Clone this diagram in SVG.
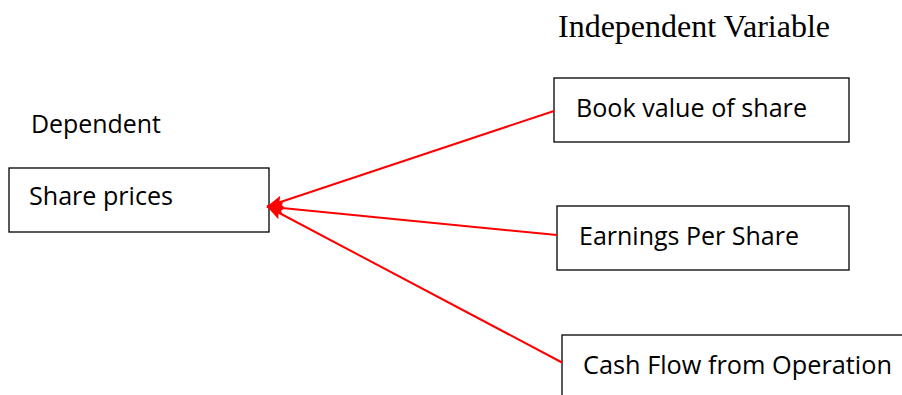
<svg xmlns="http://www.w3.org/2000/svg" width="902" height="395" viewBox="0 0 902 395">
<style>
.box{fill:#fff;stroke:#000;stroke-width:1.3}
.lbl{font-family:"Open Sans","Noto Sans","Liberation Sans",sans-serif;font-size:25.5px;fill:#000}
.title{font-family:"Liberation Serif","Times New Roman",serif;font-size:31.5px;fill:#000}
.conn{stroke:#f00;stroke-width:2;fill:none;marker-end:url(#ah)}
</style>
<defs>
<marker id="ah" viewBox="0 0 16 12" refX="16" refY="6" markerWidth="16" markerHeight="12" markerUnits="userSpaceOnUse" orient="auto">
<path d="M0,0 L16,6 L0,12 L3,6 Z" fill="#f00"/>
</marker>
</defs>
<rect width="902" height="395" fill="#fff"/>
<text class="title" x="558" y="37" textLength="272" lengthAdjust="spacingAndGlyphs">Independent Variable</text>
<text class="lbl" x="31" y="133" textLength="130" lengthAdjust="spacingAndGlyphs">Dependent</text>
<g id="share-prices">
<rect class="box" x="9" y="168" width="260" height="64"/>
<text class="lbl" x="29" y="205" textLength="144" lengthAdjust="spacingAndGlyphs">Share prices</text>
</g>
<g id="book-value">
<rect class="box" x="554" y="78" width="295" height="64"/>
<text class="lbl" x="576" y="117" textLength="231" lengthAdjust="spacingAndGlyphs">Book value of share</text>
</g>
<g id="eps">
<rect class="box" x="557" y="206" width="292" height="64"/>
<text class="lbl" x="579" y="245" textLength="220" lengthAdjust="spacingAndGlyphs">Earnings Per Share</text>
</g>
<g id="cash-flow">
<rect class="box" x="562" y="335" width="360" height="80"/>
<text class="lbl" x="583" y="374" textLength="309" lengthAdjust="spacingAndGlyphs">Cash Flow from Operation</text>
</g>
<g id="connectors">
<line class="conn" x1="554" y1="111" x2="267" y2="206.5"/>
<line class="conn" x1="557" y1="235" x2="267" y2="206.5"/>
<line class="conn" x1="562" y1="362.5" x2="267" y2="206.5"/>
</g>
</svg>
